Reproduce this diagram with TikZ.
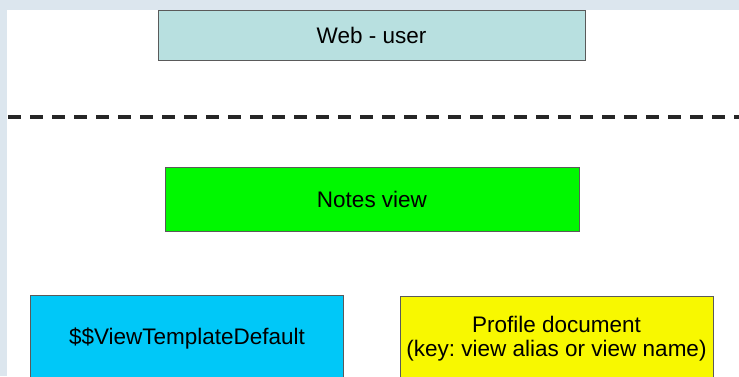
\documentclass[tikz,border=0pt]{standalone}
\usepackage{fontspec}
\setmainfont{Liberation Sans}
\usetikzlibrary{positioning}
\frenchspacing

\definecolor{slidebg}{HTML}{DCE6EE}
\definecolor{userfill}{HTML}{B8E0E0}
\definecolor{notesfill}{HTML}{00F800}
\definecolor{templfill}{HTML}{00C8F8}
\definecolor{proffill}{HTML}{F8F800}
\definecolor{boxline}{HTML}{5A5A5A}

\begin{document}
\begin{tikzpicture}[x=1pt,y=-1pt,
		every node/.style={
			rectangle,
			draw=boxline,
			line width=1pt,
			inner sep=0pt,
			align=center,
			font=\fontsize{22.5}{24}\selectfont
		},
		layer/.style={
			minimum height=50pt
		},
		lower/.style={
			minimum width=313pt,
			minimum height=86pt
		}]

		% slide background
		\fill[slidebg] (0,0) rectangle (739,376);
		\fill[white] (7,10) rectangle (739,376);
		\useasboundingbox (0,0) rectangle (739,376);

		\begin{scope}
		\clip (0,0) rectangle (739,376);

		\node[layer, fill=userfill, minimum width=427pt] at (371.5,35) (user) {Web - user};

		%separator
		\coordinate (sep west) at (8,116.7);
		\coordinate (sep east) at (739,116.7);
		\draw[line width=4pt, dash pattern=on 13pt off 9pt, black!85] (sep west) -- (sep east);

		\node[fill=notesfill, minimum width=414pt, minimum height=64pt] at (372,199) (notes) {Notes view};

		\node[lower, fill=templfill] at (187,338) (templ) {\$\$ViewTemplateDefault};
		\node[lower, fill=proffill] at (556.5,339) (profile) {Profile document\\(key: view alias or view name)};
		\end{scope}

	\end{tikzpicture}
\end{document}
